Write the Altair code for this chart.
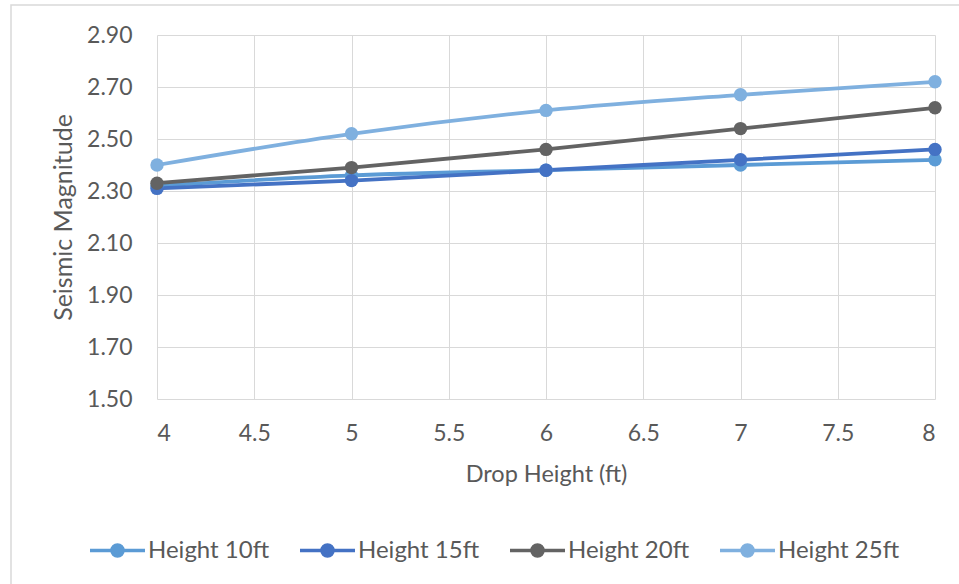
import altair as alt
import pandas as pd

# Drop height (ft) on the x axis
drop_height = [4, 5, 6, 7, 8]

# Seismic magnitude for each release height
series_names = ["Height 10ft", "Height 15ft", "Height 20ft", "Height 25ft"]
height_10ft = [2.32, 2.36, 2.38, 2.40, 2.42]
height_15ft = [2.31, 2.34, 2.38, 2.42, 2.46]
height_20ft = [2.33, 2.39, 2.46, 2.54, 2.62]
height_25ft = [2.40, 2.52, 2.61, 2.67, 2.72]

series_colors = ["#5B9BD5", "#4472C4", "#636363", "#7FB0DF"]

y_ticks = [1.5, 1.7, 1.9, 2.1, 2.3, 2.5, 2.7, 2.9]
x_ticks = [4, 4.5, 5, 5.5, 6, 6.5, 7, 7.5, 8]

rows = []
for name, values in zip(series_names, [height_10ft, height_15ft, height_20ft, height_25ft]):
    for order, (x, y) in enumerate(zip(drop_height, values)):
        rows.append({"Drop Height": x, "Magnitude": y, "Series": name, "order": order})
df = pd.DataFrame(rows)

FONT = "Lato"
TEXT = "#595959"
GRID = "#D9D9D9"

# line with a dot in the middle, used as the legend symbol
legend_symbol = (
    "M-1,0L1,0"
    "M0.2,0A0.2,0.2,0,1,1,-0.2,0A0.2,0.2,0,1,1,0.2,0Z"
)

color = alt.Color(
    "Series:N",
    scale=alt.Scale(domain=series_names, range=series_colors),
    legend=alt.Legend(
        title=None,
        orient="none",
        direction="horizontal",
        columns=4,
        legendX=-69,
        legendY=486,
        padding=0,
        symbolType=legend_symbol,
        symbolSize=3025,
        symbolStrokeWidth=3.5,
        symbolOffset=0,
        labelOffset=1,
        columnPadding=23,
        labelFont=FONT,
        labelFontSize=24,
        labelColor=TEXT,
        labelLimit=300,
    ),
)

x_enc = alt.X(
    "Drop Height:Q",
    scale=alt.Scale(domain=[4, 8], nice=False, zero=False),
    axis=alt.Axis(
        title="Drop Height (ft)",
        values=x_ticks,
        format="~g",
        grid=True,
        gridColor=GRID,
        gridWidth=1,
        domain=False,
        ticks=False,
        labelPadding=23,
        labelFont=FONT,
        labelFontSize=23,
        labelColor=TEXT,
        titleFont=FONT,
        titleFontSize=23.5,
        titleFontWeight="normal",
        titleColor=TEXT,
        titlePadding=17,
    ),
)

y_enc = alt.Y(
    "Magnitude:Q",
    scale=alt.Scale(domain=[1.5, 2.9], nice=False, zero=False),
    axis=alt.Axis(
        title="Seismic Magnitude",
        values=y_ticks,
        format=".2f",
        grid=True,
        gridColor=GRID,
        gridWidth=1,
        domain=False,
        ticks=False,
        labelPadding=25,
        labelFont=FONT,
        labelFontSize=23,
        labelColor=TEXT,
        titleFont=FONT,
        titleFontSize=25,
        titleFontWeight="normal",
        titleColor=TEXT,
        titlePadding=10,
    ),
)

lines = alt.Chart(df).mark_line(
    interpolate="monotone", strokeWidth=3.8
).encode(x=x_enc, y=y_enc, color=color, order="order:O")

points = alt.Chart(df).mark_circle(size=180, opacity=1).encode(
    x="Drop Height:Q", y="Magnitude:Q", color=alt.Color("Series:N", legend=None)
)

# thin outer frame around the chart area, open at the right and bottom edges
frame = alt.Chart(alt.Data(values=[{}])).mark_rect(
    fill=None, stroke="#D9D9D9", strokeWidth=1.5
).encode(
    x=alt.value(-146), x2=alt.value(820),
    y=alt.value(-30), y2=alt.value(570),
)

chart = alt.layer(frame, lines, points).properties(
    width=778,
    height=364,
    autosize=alt.AutoSizeParams(type="none"),
    padding={"left": 157, "top": 35, "right": 24, "bottom": 185},
    background="white",
).configure_view(stroke=None)

chart.save("out.html", embed_options={"renderer": "svg", "actions": False})
